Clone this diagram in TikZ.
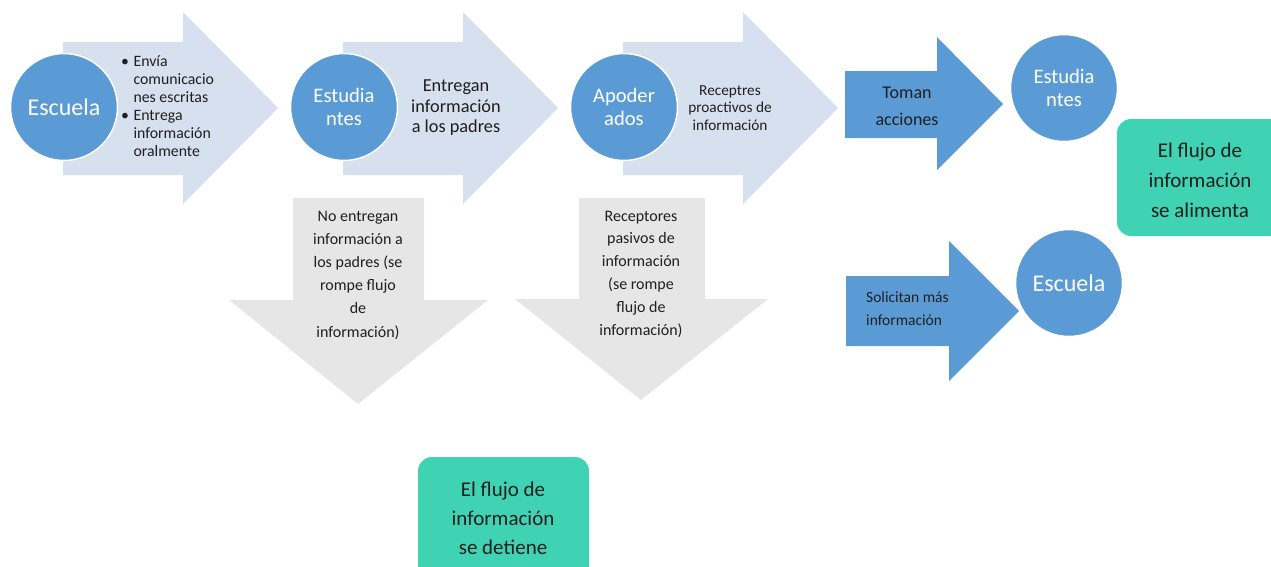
\documentclass[tikz,border=0pt]{standalone}
\usepackage{fontspec}
\setmainfont{Carlito}
\definecolor{cblue}{HTML}{5B9BD5}
\definecolor{lblue}{HTML}{D6E0EE}
\definecolor{lgray}{HTML}{E7E6E6}
\definecolor{cgreen}{HTML}{40D3B3}
\definecolor{dtext}{HTML}{1F1F1F}
\newcommand{\fs}[2]{\fontsize{#1}{#2}\selectfont}
\begin{document}
\begin{tikzpicture}[x=1pt,y=-1pt,
  circ/.style={circle,fill=cblue,draw=white,line width=1.5pt,minimum size=107pt,inner sep=0pt,text=white,align=center,font=\fs{20.6}{23}},
  bigcirc/.style={circ,font=\fs{24}{26}},
  lightarrow/.style={fill=lblue},
  grayarrow/.style={fill=lgray},
  bluearrow/.style={fill=cblue},
  greenbox/.style={fill=cgreen,rounded corners=14pt},
  lbl/.style={text=dtext,align=center,inner sep=0pt}]
\useasboundingbox (0,0) rectangle (1271,566);
% light arrows
\foreach \o in {0,280,560}{
  \fill[lightarrow] (63+\o,42) -- (183+\o,42) -- (183+\o,12) -- (278+\o,108) -- (183+\o,204) -- (183+\o,175) -- (63+\o,175) -- cycle;
}
% gray down arrows
\fill[grayarrow] (293,198) -- (424,198) -- (424,300) -- (488,300) -- (358,404) -- (229,300) -- (293,300) -- cycle;
\fill[grayarrow] (579,198) -- (705,198) -- (705,299) -- (768,299) -- (641,400) -- (515,299) -- (579,299) -- cycle;
% blue arrows
\fill[bluearrow] (845,71) -- (937,71) -- (937,37) -- (1003,104) -- (937,170) -- (937,138) -- (845,138) -- cycle;
\fill[bluearrow] (846,276) -- (949,276) -- (949,241) -- (1019,311) -- (949,381) -- (949,346) -- (846,346) -- cycle;
% green boxes
\fill[greenbox] (1117,119) rectangle (1290,236);
\fill[greenbox] (418,457) rectangle (589,590);
% circles
\node[bigcirc] (c1) at (64,107) {Escuela};
\node[circ] (c2) at (344,107) {Estudia\\ntes};
\node[circ] (c3) at (624,107) {Apoder\\ados};
\node[circ] (c4) at (1064,88) {Estudia\\ntes};
\node[bigcirc] (c5) at (1069,283) {Escuela};
% texts
\node[lbl,anchor=west,font=\fs{15.8}{17.8}] (t1) at (121,108) {\begin{tabular}{@{}l@{\hspace{4.5pt}}l@{}}
\textbullet & Envía\\ & comunicacio\\ & nes escritas\\[1pt]
\textbullet & Entrega\\ & información\\ & oralmente\end{tabular}};
\node[lbl,font=\fs{18.3}{20.5}] (t2) at (456,108) {Entregan\\información\\a los padres};
\node[lbl,font=\fs{15.3}{17.5}] (t3) at (730,108) {Receptres\\proactivos de\\información};
\node[lbl,font=\fs{18}{27}] (t4) at (907,106) {Toman\\acciones};
\node[lbl,anchor=west,align=left,font=\fs{15.5}{23}] (t5) at (866,309) {Solicitan más\\información};
\node[lbl,font=\fs{16}{23.2}] (t6) at (358,275) {No entregan\\información a\\los padres (se\\rompe flujo\\de\\información)};
\node[lbl,font=\fs{16}{22.8}] (t7) at (641,274) {Receptores\\pasivos de\\información\\(se rompe\\flujo de\\información)};
\node[lbl,font=\fs{21}{30}] (g1) at (1200,180) {El flujo de\\información\\se alimenta};
\node[lbl,font=\fs{21}{29}] (g2) at (503,518) {El flujo de\\información\\se detiene};
\end{tikzpicture}
\end{document}
